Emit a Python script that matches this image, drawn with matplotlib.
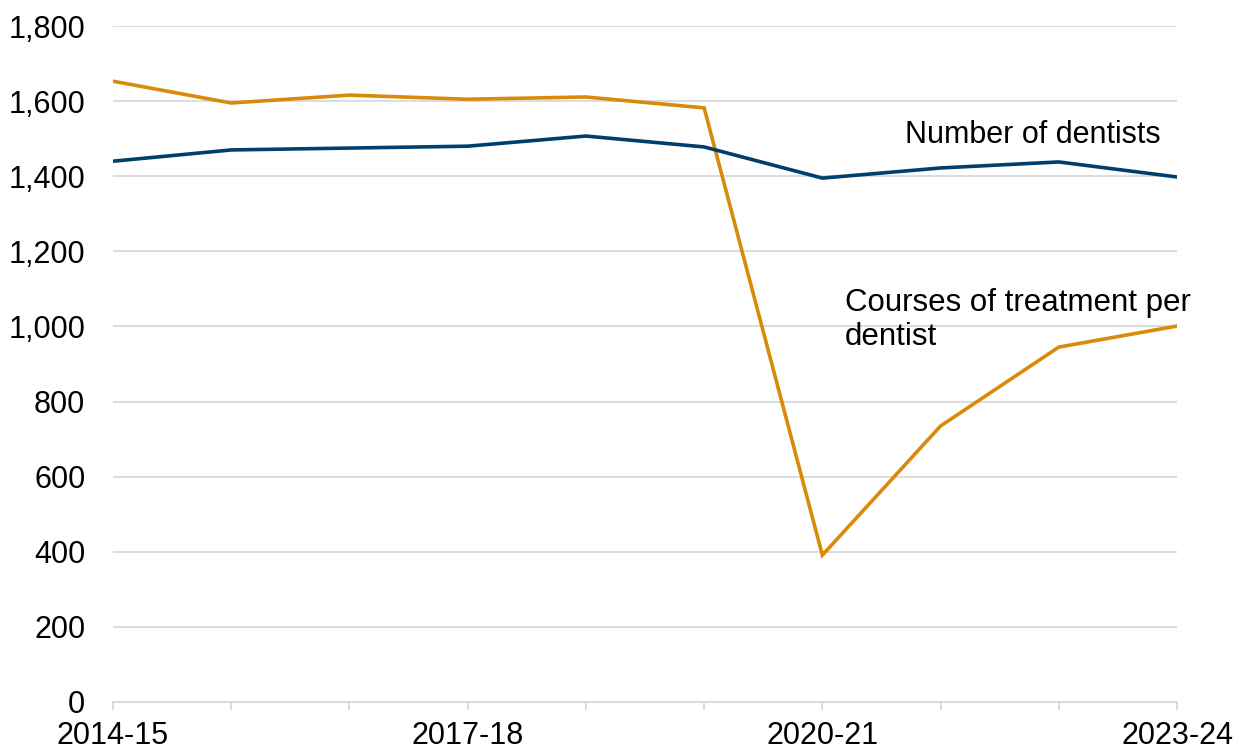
import matplotlib.pyplot as plt

plt.rcParams['font.family'] = ['Liberation Sans', 'DejaVu Sans']

# Data
years = ['2014-15', '2015-16', '2016-17', '2017-18', '2018-19',
         '2019-20', '2020-21', '2021-22', '2022-23', '2023-24']
dentists = [1440, 1470, 1475, 1480, 1507, 1478, 1395, 1422, 1438, 1398]
courses_per_dentist = [1653, 1595, 1616, 1605, 1611, 1582, 391, 735, 945, 1001]
shown_labels = ['2014-15', '2017-18', '2020-21', '2023-24']

navy = '#003f6b'
orange = '#d98a0b'
grid_grey = '#d9d9d9'

fig = plt.figure(figsize=(12.45, 7.54), dpi=100)
ax = fig.add_axes([0.0908, 0.069, 0.8546, 0.8965])

x = list(range(len(years)))
ax.plot(x, courses_per_dentist, color=orange, lw=2.6, solid_joinstyle='miter')
ax.plot(x, dentists, color=navy, lw=2.6, solid_joinstyle='miter')

ax.set_xlim(0, len(years) - 1)
ax.set_ylim(0, 1800)
ax.set_yticks(range(0, 1801, 200))
ax.set_yticklabels([f'{v:,}' for v in range(0, 1801, 200)])
ax.set_xticks(x)
ax.set_xticklabels([y if y in shown_labels else '' for y in years])

ax.grid(axis='y', color=grid_grey, lw=1.3)
ax.set_axisbelow(True)
for s in ['top', 'right', 'left']:
    ax.spines[s].set_visible(False)
ax.spines['bottom'].set_color(grid_grey)
ax.spines['bottom'].set_linewidth(1.3)

ax.tick_params(axis='y', length=0, pad=20, labelsize=22)
ax.tick_params(axis='x', length=6, width=1.3, color=grid_grey, pad=8, labelsize=22)

ax.text(6.70, 1510, 'Number of dentists', fontsize=22, va='center', ha='left')
ax.text(6.19, 1017, 'Courses of treatment per\ndentist', fontsize=22.5,
        va='center', ha='left', linespacing=1.2)

fig.savefig('out.png', dpi=100)
